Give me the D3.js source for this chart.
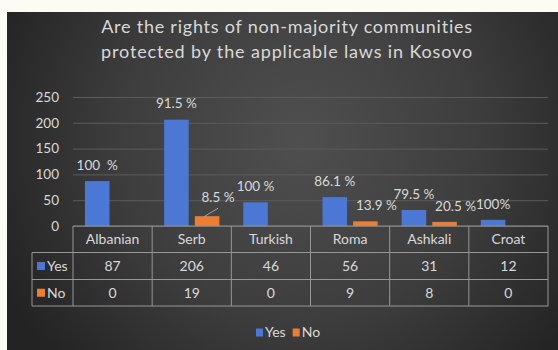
<!DOCTYPE html>
<html>
<head>
<meta charset="utf-8">
<script src="https://cdn.jsdelivr.net/npm/d3@7"></script>
<style>
  html, body { margin: 0; padding: 0; background: #fcfcf4; }
  svg { display: block; }
  text { font-family: Lato, "Open Sans", sans-serif; }
</style>
</head>
<body>
<svg id="chart" width="558" height="350"></svg>
<script>
// ---- data ----
const categories = ["Albanian", "Serb", "Turkish", "Roma", "Ashkali", "Croat"];
const series = ["Yes", "No"];
const yesValues = [87, 206, 46, 56, 31, 12];
const noValues = [0, 19, 0, 9, 8, 0];
const yesLabels = ["100  %", "91.5 %", "100 %", "86.1 %", "79.5 %", "100%"];
const noLabels = [null, "8.5 %", null, "13.9 %", "20.5 %", null];
const yTicks = [0, 50, 100, 150, 200, 250];
const titleLines = [
  "Are the rights of non-majority communities",
  "protected by the applicable laws in Kosovo"
];

// ---- layout & style ----
const W = 558, H = 350;
const plot = { left: 73, right: 548, top: 97, bottom: 226 };
const table = { legendLeft: 32, rows: [226, 252.5, 279.5, 306] };
const colors = { Yes: "#4a78d4", No: "#ed7d31" };
const textColor = "#d9d9d9";
const gridColor = "#5c5c5c";
const borderColor = "#979797";

const valuesBySeries = { Yes: yesValues, No: noValues };
const labelsBySeries = { Yes: yesLabels, No: noLabels };

const svg = d3.select("#chart");

// background panel with soft radial shading
const defs = svg.append("defs");
const grad = defs.append("radialGradient")
  .attr("id", "panelShade")
  .attr("gradientUnits", "userSpaceOnUse")
  .attr("cx", 300).attr("cy", 140).attr("r", 330);
grad.append("stop").attr("offset", "0%").attr("stop-color", "#4f4f4f");
grad.append("stop").attr("offset", "55%").attr("stop-color", "#3d3d3d");
grad.append("stop").attr("offset", "100%").attr("stop-color", "#232323");

svg.append("rect").attr("width", W).attr("height", H).attr("fill", "#fcfcf4");
svg.append("rect").attr("x", 7).attr("y", 12).attr("width", W - 7).attr("height", H - 12)
  .attr("fill", "url(#panelShade)");

// ---- title ----
const titleTarget = 372;
const title = svg.append("g").attr("fill", textColor)
  .style("font-size", "18px").attr("text-anchor", "middle");
titleLines.forEach((line, i) => {
  const t = title.append("text").attr("x", 287).attr("y", 32.5 + i * 25).text(line);
  const w = t.node().getComputedTextLength();
  t.style("letter-spacing", ((titleTarget - w) / line.length) + "px");
});

// ---- scales ----
const x = d3.scaleBand().domain(categories).range([plot.left, plot.right]);
const xs = d3.scaleBand().domain(series).range([0, x.bandwidth()])
  .paddingInner(0.2).paddingOuter(0.39);
const y = d3.scaleLinear().domain([0, 250]).range([plot.bottom, plot.top]);

// ---- y axis with gridlines ----
const yAxis = svg.append("g")
  .attr("transform", `translate(${plot.left},0)`)
  .call(d3.axisLeft(y).tickValues(yTicks).tickSize(-(plot.right - plot.left)).tickPadding(14));
yAxis.select(".domain").remove();
yAxis.selectAll(".tick line").attr("stroke", gridColor).attr("stroke-width", 1);
yAxis.selectAll(".tick text").attr("fill", textColor)
  .style("font-size", "13.5px").style("font-family", "Lato, 'Open Sans', sans-serif");

// ---- bars ----
const barData = [];
categories.forEach((c, i) => series.forEach(s => {
  barData.push({ cat: c, s, v: valuesBySeries[s][i], label: labelsBySeries[s][i] });
}));

svg.append("g").selectAll("rect")
  .data(barData.filter(d => d.v > 0))
  .join("rect")
  .attr("x", d => x(d.cat) + xs(d.s))
  .attr("y", d => y(d.v))
  .attr("width", xs.bandwidth())
  .attr("height", d => y(0) - y(d.v))
  .attr("fill", d => colors[d.s]);

// ---- data labels ----
const leaderCats = new Set(["Serb"]);
const labelG = svg.append("g").attr("fill", textColor).style("font-size", "13.5px")
  .attr("text-anchor", "middle");
barData.filter(d => d.label).forEach(d => {
  const cx = x(d.cat) + xs(d.s) + xs.bandwidth() / 2;
  const top = y(d.v);
  let dx = d.s === "No" ? 11 : 0;
  let lift = 16;
  if (d.s === "No" && leaderCats.has(d.cat)) {
    lift = 19;
    labelG.append("line")
      .attr("x1", cx - 3).attr("y1", top + 0.5)
      .attr("x2", cx + 11).attr("y2", top - 8)
      .attr("stroke", "#a6a6a6").attr("stroke-width", 1);
  }
  labelG.append("text")
    .attr("x", cx + dx).attr("y", top - lift).attr("dy", "0.35em")
    .style("white-space", "pre")
    .text(d.label);
});

// ---- data table ----
const tg = svg.append("g");
const [r0, r1, r2, r3] = table.rows;
const hline = (x1, x2, yy) => tg.append("line").attr("x1", x1).attr("x2", x2)
  .attr("y1", yy).attr("y2", yy).attr("stroke", borderColor).attr("stroke-width", 1);
const vline = (xx, y1, y2) => tg.append("line").attr("x1", xx).attr("x2", xx)
  .attr("y1", y1).attr("y2", y2).attr("stroke", borderColor).attr("stroke-width", 1);

hline(plot.left, plot.right, r0);
[r1, r2, r3].forEach(yy => hline(table.legendLeft, plot.right, yy));
vline(table.legendLeft, r1, r3);
vline(plot.left, r0, r3);
categories.forEach(c => vline(x(c) + x.bandwidth(), r0, r3));

const tText = svg.append("g").attr("fill", textColor).style("font-size", "14px")
  .attr("text-anchor", "middle");
categories.forEach((c, i) => {
  const cx = x(c) + x.bandwidth() / 2;
  tText.append("text").attr("x", cx).attr("y", (r0 + r1) / 2).attr("dy", "0.35em").text(c);
  tText.append("text").attr("x", cx).attr("y", (r1 + r2) / 2).attr("dy", "0.35em").text(yesValues[i]);
  tText.append("text").attr("x", cx).attr("y", (r2 + r3) / 2).attr("dy", "0.35em").text(noValues[i]);
});

// row keys in the table
series.forEach((s, i) => {
  const mid = (table.rows[i + 1] + table.rows[i + 2]) / 2;
  tg.append("rect").attr("x", table.legendLeft + 5).attr("y", mid - 4)
    .attr("width", 8).attr("height", 8).attr("fill", colors[s]);
  tText.append("text").attr("x", table.legendLeft + 15).attr("y", mid).attr("dy", "0.35em")
    .attr("text-anchor", "start").text(s);
});

// ---- bottom legend ----
const legend = svg.append("g").attr("transform", "translate(256,332.5)");
let lx = 0;
series.forEach(s => {
  legend.append("rect").attr("x", lx).attr("y", -4).attr("width", 7).attr("height", 8)
    .attr("fill", colors[s]);
  const t = legend.append("text").attr("x", lx + 9).attr("y", 0).attr("dy", "0.35em")
    .attr("fill", textColor).style("font-size", "14px").text(s);
  lx += 9 + t.node().getComputedTextLength() + 7;
});
</script>
</body>
</html>
